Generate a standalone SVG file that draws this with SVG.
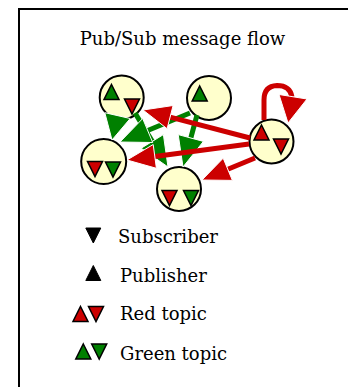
<svg xmlns="http://www.w3.org/2000/svg" width="348" height="387" viewBox="0 0 348 387">
<defs>
<path id="up" d="M0,-7.5 L7.5,7.5 L-7.5,7.5 Z"/>
<path id="dn" d="M-7.5,-7.5 L7.5,-7.5 L0,7.5 Z"/>
<style>
.node circle{fill:#FFFFCC;stroke:#000;stroke-width:2}
.r{fill:#CC0000;stroke:#000;stroke-width:1.5;stroke-linejoin:miter}
.g{fill:#008000;stroke:#000;stroke-width:1.5;stroke-linejoin:miter}
.k{fill:#000;stroke:#000;stroke-width:1}
.lr{stroke:#CC0000;stroke-width:5;fill:none}
.lg{stroke:#008000;stroke-width:5;fill:none}
.ar{fill:#CC0000;stroke:#fff;stroke-width:1}
.ag{fill:#008000;stroke:#fff;stroke-width:1}
text{font-family:"DejaVu Serif","Liberation Serif",serif;font-size:18px;fill:#000}
</style>
</defs>
<rect width="348" height="387" fill="#fff"/>
<path d="M19,400 L19,9 L360,9" fill="none" stroke="#000" stroke-width="2"/>
<text x="182.5" y="45" text-anchor="middle">Pub/Sub message flow</text>

<g id="nodeA" class="node"><circle cx="121.7" cy="97.5" r="22"/><use href="#up" x="111.5" y="92" class="g"/><use href="#dn" x="132" y="106.5" class="r"/></g>
<g id="nodeB" class="node"><circle cx="209" cy="98" r="22"/><use href="#up" x="199.7" y="93.5" class="g"/></g>
<g id="nodeC" class="node"><circle cx="271.5" cy="141.5" r="22"/><use href="#up" x="261.5" y="132.5" class="r"/><use href="#dn" x="281" y="146.5" class="r"/></g>
<g id="nodeD" class="node"><circle cx="103.7" cy="161.5" r="22.5"/><use href="#dn" x="95" y="169" class="r"/><use href="#dn" x="113" y="169.5" class="g"/></g>
<g id="nodeE" class="node"><circle cx="179" cy="189" r="22"/><use href="#dn" x="169.5" y="198" class="r"/><use href="#dn" x="191" y="198" class="g"/></g>

<g id="connectors">
<g id="AtoD"><polygon points="130.2,118.5 104.8,112.7 112,140" class="ag"/></g>
<g id="BtoE"><line x1="197" y1="115" x2="190.8" y2="138" class="lg"/><polygon points="178.2,134.6 203.4,141.4 183,167" class="ag"/></g>
<g id="AtoE"><line x1="135" y1="113" x2="152.3" y2="141.4" class="lg"/><polygon points="163.4,134.6 141.2,148.2 168,167" class="ag"/></g>
<g id="BtoD"><line x1="190" y1="113" x2="147.7" y2="130.5" class="lg"/><polygon points="142.7,118.5 152.7,142.5 120,142" class="ag"/></g>
<g id="CtoA"><line x1="250" y1="138" x2="170.1" y2="117.1" class="lr"/><polygon points="173.1,105.5 167.1,128.7 143,110" class="ar"/></g>
<g id="CtoD"><line x1="249" y1="144" x2="154.8" y2="156.4" class="lr"/><polygon points="156.4,168.3 153.2,144.5 127,160" class="ar"/></g>
<g id="CtoE"><line x1="255" y1="158" x2="227.8" y2="169.3" class="lr"/><polygon points="232.4,180.4 223.2,158.2 202,180" class="ar"/></g>
<g id="CtoC"><path d="M264,120 L264,100 Q264,86 277,85.5 Q290,85.5 292,97" class="lr"/><polygon points="279,94.5 307,99 288,123" class="ar"/></g>
</g>

<g id="legend">
<use href="#dn" x="93.3" y="235.5" class="k"/>
<text x="118" y="243.3">Subscriber</text>
<use href="#up" x="93.3" y="273" class="k"/>
<text x="120" y="281.7">Publisher</text>
<use href="#up" x="80.5" y="314" class="r"/><use href="#dn" x="96" y="314" class="r"/>
<text x="120" y="320">Red topic</text>
<use href="#up" x="83.3" y="351.5" class="g"/><use href="#dn" x="99.2" y="351.5" class="g"/>
<text x="120" y="360">Green topic</text>
</g>
</svg>
